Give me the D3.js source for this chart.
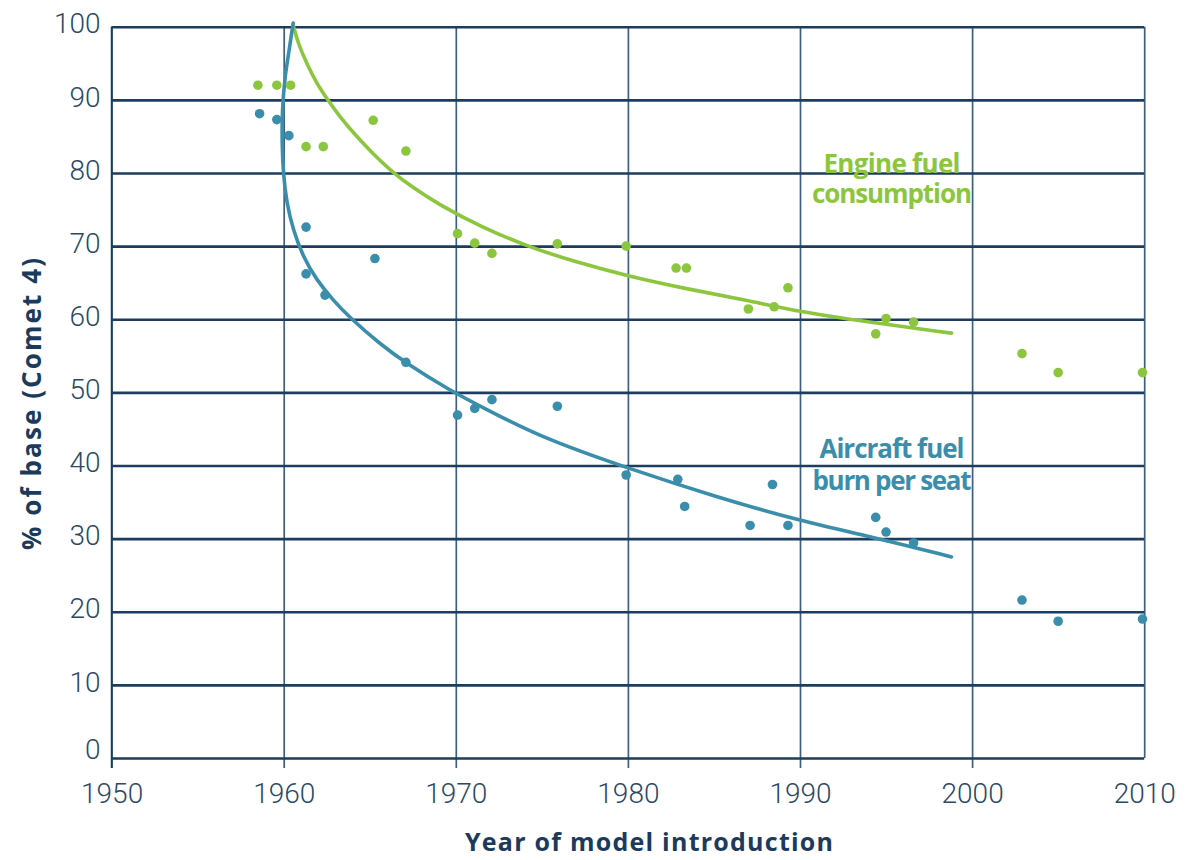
<!DOCTYPE html>
<html>
<head>
<meta charset="utf-8">
<script src="https://cdn.jsdelivr.net/npm/d3@7"></script>
<style>
  body { margin: 0; background: #fff; }
  svg text { font-family: Roboto, "Liberation Sans", sans-serif; }
  .tick text { font-weight: 300; font-size: 28px; fill: #2a4966; }
  .axis-title { font-family: "Open Sans", Roboto, sans-serif; font-weight: 700; fill: #1b3a5c; }
  .series-label { font-family: "Open Sans", Roboto, sans-serif; font-weight: 700; font-size: 26px; }
</style>
</head>
<body>
<svg width="1191" height="860"></svg>
<script>
// ticks
const xTicks = [1950, 1960, 1970, 1980, 1990, 2000, 2010];
const yTicks = [0, 10, 20, 30, 40, 50, 60, 70, 80, 90, 100];

// engine fuel consumption, dots
const engineYears = [1958.5, 1959.6, 1960.4, 1961.3, 1962.3, 1965.2, 1967.1, 1970.1, 1971.1, 1972.1,
    1975.9, 1979.9, 1982.8, 1983.4, 1987.0, 1988.5, 1989.3, 1994.4, 1995.0, 1996.6, 2002.9, 2005.0, 2009.9];
const engineValues = [92, 92, 92, 83.6, 83.6, 87.2, 83.0, 71.7, 70.4, 69.0,
    70.3, 70.0, 67.0, 67.0, 61.4, 61.7, 64.3, 58.0, 60.1, 59.6, 55.3, 52.7, 52.7];

// aircraft fuel burn per seat, dots
const burnYears = [1958.6, 1959.6, 1960.3, 1961.3, 1961.3, 1962.4, 1965.3, 1967.1, 1970.1, 1971.1,
    1972.1, 1975.9, 1979.9, 1982.9, 1983.3, 1987.1, 1988.4, 1989.3, 1994.4, 1995.0, 1996.6,
    2002.9, 2005.0, 2009.9];
const burnValues = [88.1, 87.3, 85.1, 72.6, 66.2, 63.3, 68.3, 54.1, 46.9, 47.8,
    49.0, 48.1, 38.7, 38.1, 34.4, 31.8, 37.4, 31.8, 32.9, 30.9, 29.4,
    21.6, 18.7, 19.0];

// trend curves
const engineFitYears = [1960.55, 1960.84, 1961.33, 1961.9, 1962.58, 1963.26, 1964.23, 1965.2, 1966.27,
    1967.5, 1969.07, 1971.5, 1974.1, 1977.0, 1980.0, 1983.5, 1986.9, 1990.0, 1993.7, 1998.8];
const engineFitValues = [100.2, 97.7, 95.0, 92.3, 89.9, 87.7, 85.0, 82.6, 80.2,
    78.0, 75.6, 72.6, 70.0, 67.8, 65.9, 64.1, 62.6, 61.0, 59.7, 58.1];
const burnFitYears = [1960.55, 1960.32, 1960.07, 1959.91, 1959.9, 1959.97, 1960.17, 1960.55, 1961.13, 1961.9,
    1962.87, 1963.8, 1965.6, 1967.1, 1969.55, 1972.0, 1975.0, 1980.0, 1985.0, 1990.0, 1994.6, 1998.8];
const burnFitValues = [100.5, 96.8, 93.2, 88.6, 84.1, 80.0, 75.9, 72.2, 68.5, 65.4,
    62.6, 60.3, 56.6, 54.0, 50.4, 47.4, 43.8, 39.6, 35.8, 32.4, 30.0, 27.5];

const green = '#8cc63e';
const blue = '#3a8eab';

const svg = d3.select('svg');
const margin = { top: 26.7, left: 111.6, right: 46.8, bottom: 102 };
const width = +svg.attr('width');
const height = +svg.attr('height');
const innerWidth = width - margin.left - margin.right;
const innerHeight = height - margin.top - margin.bottom;

const xScale = d3.scaleLinear().domain([1950, 2010]).range([0, innerWidth]);
const yScale = d3.scaleLinear().domain([0, 100]).range([innerHeight, 0]);

const g = svg.append('g')
    .attr('transform', `translate(${margin.left}, ${margin.top})`);

// vertical grid + year labels
const xAxisG = g.append('g')
    .attr('transform', `translate(0, ${innerHeight})`)
    .call(d3.axisBottom(xScale).tickValues(xTicks).tickFormat(d3.format('d')).tickSizeOuter(0));
xAxisG.select('.domain').remove();
xAxisG.selectAll('.tick line')
    .attr('y1', d => d === 2010 ? 0 : 10)
    .attr('y2', -innerHeight)
    .attr('stroke', '#3f5f7d')
    .attr('stroke-width', 1.7);
xAxisG.selectAll('.tick text').attr('y', 25).attr('dy', '0.71em');

// horizontal grid + value labels
const yAxisG = g.append('g')
    .call(d3.axisLeft(yScale).tickValues(yTicks).tickSize(-innerWidth).tickPadding(12).tickSizeOuter(0));
yAxisG.select('.domain').remove();
yAxisG.selectAll('.tick line')
    .attr('stroke', '#1c3d5e')
    .attr('stroke-width', 2.6);
yAxisG.selectAll('.tick text')
    .attr('x', -11)
    .attr('dy', d => d === 0 ? '0.02em' : '0.22em');

// y axis line
g.append('line')
    .attr('x1', 0).attr('x2', 0)
    .attr('y1', 0).attr('y2', innerHeight + 10)
    .attr('stroke', '#1c3d5e')
    .attr('stroke-width', 1.7);

// trend curves
const line = d3.line()
    .x(d => xScale(d[0]))
    .y(d => yScale(d[1]))
    .curve(d3.curveBasis);

g.append('path')
    .datum(engineFitYears.map((yr, i) => [yr, engineFitValues[i]]))
    .attr('d', line)
    .attr('fill', 'none')
    .attr('stroke', green)
    .attr('stroke-width', 3.6)
    .attr('stroke-linecap', 'round');

g.append('path')
    .datum(burnFitYears.map((yr, i) => [yr, burnFitValues[i]]))
    .attr('d', line)
    .attr('fill', 'none')
    .attr('stroke', blue)
    .attr('stroke-width', 3.6)
    .attr('stroke-linecap', 'round');

// dots
g.append('g').selectAll('circle')
    .data(engineYears.map((yr, i) => [yr, engineValues[i]]))
    .enter().append('circle')
    .attr('cx', d => xScale(d[0]))
    .attr('cy', d => yScale(d[1]))
    .attr('r', 4.8)
    .attr('fill', green);

g.append('g').selectAll('circle')
    .data(burnYears.map((yr, i) => [yr, burnValues[i]]))
    .enter().append('circle')
    .attr('cx', d => xScale(d[0]))
    .attr('cy', d => yScale(d[1]))
    .attr('r', 4.8)
    .attr('fill', blue);

// series labels
const labelX = 892 - margin.left;
const engineLabel = g.append('text')
    .classed('series-label', true)
    .attr('fill', green)
    .attr('text-anchor', 'middle')
    .attr('x', labelX)
    .attr('y', 173 - margin.top);
engineLabel.append('tspan').attr('textLength', 137).attr('lengthAdjust', 'spacing').text('Engine fuel');
engineLabel.append('tspan').attr('x', labelX).attr('dy', 30)
    .attr('textLength', 160).attr('lengthAdjust', 'spacing').text('consumption');

const burnLabel = g.append('text')
    .classed('series-label', true)
    .attr('fill', blue)
    .attr('text-anchor', 'middle')
    .attr('x', labelX)
    .attr('y', 458 - margin.top);
burnLabel.append('tspan').attr('textLength', 145).attr('lengthAdjust', 'spacing').text('Aircraft fuel');
burnLabel.append('tspan').attr('x', labelX).attr('dy', 32)
    .attr('textLength', 159).attr('lengthAdjust', 'spacing').text('burn per seat');

// axis titles
svg.append('text')
    .classed('axis-title', true)
    .attr('text-anchor', 'middle')
    .attr('font-size', 26)
    .attr('textLength', 292)
    .attr('lengthAdjust', 'spacing')
    .attr('transform', `translate(41, 404) rotate(-90)`)
    .text('% of base (Comet 4)');

svg.append('text')
    .classed('axis-title', true)
    .attr('text-anchor', 'middle')
    .attr('font-size', 25)
    .attr('textLength', 368)
    .attr('lengthAdjust', 'spacing')
    .attr('x', 649)
    .attr('y', 851)
    .text('Year of model introduction');
</script>
</body>
</html>
